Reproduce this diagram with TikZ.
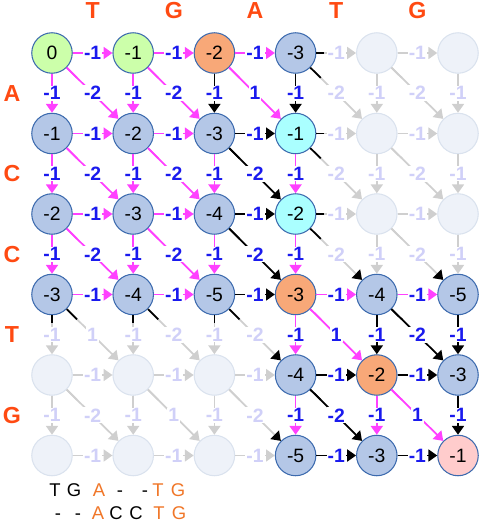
\documentclass[tikz,border=0pt]{standalone}
\usepackage{fontspec}
\setmainfont{Liberation Sans}
\usetikzlibrary{arrows.meta}

\definecolor{cellline}{HTML}{3C6AAE}
\definecolor{cellblue}{HTML}{B4C7E7}
\definecolor{cellgreen}{HTML}{CCFFAA}
\definecolor{cellorange}{HTML}{F8A878}
\definecolor{cellcyan}{HTML}{AAFFFF}
\definecolor{cellpink}{HTML}{FFCCCC}
\definecolor{dimfill}{HTML}{EEF2F9}
\definecolor{dimline}{HTML}{DAE2EE}
\definecolor{pathpink}{HTML}{FF40FF}
\definecolor{dimedge}{HTML}{CFCFCF}
\definecolor{scoreblue}{HTML}{1A1AEE}
\definecolor{dimscore}{HTML}{D0D0F8}
\definecolor{seqred}{HTML}{FF4A12}
\definecolor{alnorange}{HTML}{F07628}

\tikzset{
  cell/.style={circle, draw=cellline, line width=0.6pt, minimum size=0.81cm,
               inner sep=0pt, font=\fontsize{11}{11}\selectfont},
  dim cell/.style={cell, draw=dimline, fill=dimfill},
  tip/.style={-{Triangle[length=5pt,width=6.8pt]}},
  score/.style={fill=white, inner sep=0.6pt, text=scoreblue,
                font=\bfseries\fontsize{11}{11}\selectfont},
  dim score/.style={score, text=dimscore},
  % m = on the path, k = plain, f = faded, kf/fk/kfk = mixed ends
  line m/.style={draw=pathpink, tip},
  line k/.style={draw=black, tip},
  line f/.style={draw=dimedge, tip},
  line kf/.style={line f},
  line fk/.style={draw=dimedge, -{Triangle[length=5pt,width=6.8pt,color=black]}},
  line kfk/.style={line fk},
  lbl m/.style={score}, lbl k/.style={score},
  lbl f/.style={dim score}, lbl kf/.style={dim score},
  lbl fk/.style={dim score}, lbl kfk/.style={dim score},
  stub m/.style={draw=pathpink}, stub k/.style={draw=black},
  stub f/.style={draw=dimedge}, stub kf/.style={draw=black},
  stub fk/.style={draw=dimedge}, stub kfk/.style={draw=black},
  seq/.style={text=seqred, font=\bfseries\fontsize{13.2}{13.2}\selectfont},
  aln/.style={anchor=base, font=\fontsize{10.5}{10.5}\selectfont}
}

\begin{document}
\begin{tikzpicture}[x=0.02cm, y=-0.02cm, line width=1pt]

\useasboundingbox (0,0) rectangle (479,524);

% sequence letters
\foreach \j/\c in {1/T,2/G,3/A,4/T,5/G}
  \node[seq] (top\j) at ({52+81.2*(\j-0.5)},11) {\c};
\foreach \i/\c in {1/A,2/C,3/C,4/T,5/G}
  \node[seq] (side\i) at (12,{53+80.5*(\i-0.5)}) {\c};

% score cells
\foreach \i/\j/\v/\s in {0/0/0/green, 0/1/-1/green, 0/2/-2/orange, 0/3/-3/blue,
    1/0/-1/blue, 1/1/-2/blue, 1/2/-3/blue, 1/3/-1/cyan,
    2/0/-2/blue, 2/1/-3/blue, 2/2/-4/blue, 2/3/-2/cyan,
    3/0/-3/blue, 3/1/-4/blue, 3/2/-5/blue, 3/3/-3/orange, 3/4/-4/blue, 3/5/-5/blue,
    4/3/-4/blue, 4/4/-2/orange, 4/5/-3/blue,
    5/3/-5/blue, 5/4/-3/blue, 5/5/-1/pink}
  \node[cell, fill=cell\s] (n\i\j) at ({52+81.2*\j},{53+80.5*\i}) {\v};
\foreach \i/\j in {0/4,0/5,1/4,1/5,2/4,2/5,4/0,4/1,4/2,5/0,5/1,5/2}
  \node[dim cell] (n\i\j) at ({52+81.2*\j},{53+80.5*\i}) {};

% gaps along a row
\foreach \i/\j/\t in {0/0/m, 0/1/m, 0/2/m, 0/3/kf, 0/4/f,
    1/0/m, 1/1/m, 1/2/k, 1/3/kf, 1/4/f,
    2/0/m, 2/1/m, 2/2/k, 2/3/kf, 2/4/f,
    3/0/m, 3/1/m, 3/2/k, 3/3/m, 3/4/m,
    4/0/f, 4/1/f, 4/2/f, 4/3/k, 4/4/k,
    5/0/f, 5/1/f, 5/2/f, 5/3/k, 5/4/k} {
  \pgfmathtruncatemacro\k{\j+1}
  \path (n\i\j) -- (n\i\k) coordinate[pos=0.2] (st);
  \draw[line \t] (n\i\j) -- (n\i\k) node[midway, lbl \t] {-1};
  \draw[stub \t] (n\i\j) -- (st);
}

% gaps down a column
\foreach \i/\j/\t in {0/0/m, 0/1/m, 0/2/k, 0/3/k, 0/4/f, 0/5/f,
    1/0/m, 1/1/m, 1/2/m, 1/3/m, 1/4/f, 1/5/f,
    2/0/m, 2/1/m, 2/2/m, 2/3/m, 2/4/f, 2/5/f,
    3/0/kf, 3/1/kf, 3/2/kf, 3/3/m, 3/4/k, 3/5/k,
    4/0/f, 4/1/f, 4/2/f, 4/3/m, 4/4/m, 4/5/k} {
  \pgfmathtruncatemacro\k{\i+1}
  \path (n\i\j) -- (n\k\j) coordinate[pos=0.2] (st);
  \draw[line \t] (n\i\j) -- (n\k\j) node[midway, lbl \t] {-1};
  \draw[stub \t] (n\i\j) -- (st);
}

% matches and mismatches
\foreach \i/\j/\l/\t in {0/0/-2/m, 0/1/-2/m, 0/2/1/m, 0/3/-2/kf, 0/4/-2/f,
    1/0/-2/m, 1/1/-2/m, 1/2/-2/k, 1/3/-2/kf, 1/4/-2/f,
    2/0/-2/m, 2/1/-2/m, 2/2/-2/k, 2/3/-2/kfk, 2/4/-2/fk,
    3/0/1/kf, 3/1/-2/kf, 3/2/-2/kfk, 3/3/1/m, 3/4/-2/k,
    4/0/-2/f, 4/1/1/f, 4/2/-2/fk, 4/3/-2/k, 4/4/1/m} {
  \pgfmathtruncatemacro\k{\i+1}
  \pgfmathtruncatemacro\m{\j+1}
  \path (n\i\j) -- (n\k\m) coordinate[pos=0.2] (st);
  \draw[line \t] (n\i\j) -- (n\k\m) node[midway, lbl \t] {\l};
  \draw[stub \t] (n\i\j) -- (st);
}

% alignment read off the path
\foreach \x/\c/\col [count=\n] in {55/T/black, 74/G/black, 99/A/alnorange,
    120/-/black, 145/-/black, 158/T/alnorange, 178/G/alnorange}
  \node[aln, text=\col] (up\n) at (\x,496.7) {\c};
\foreach \x/\c/\col [count=\n] in {58/-/black, 78/-/black, 98/A/alnorange,
    116/C/black, 136/C/black, 159/T/alnorange, 179/G/alnorange}
  \node[aln, text=\col] (lo\n) at (\x,519) {\c};

\end{tikzpicture}
\end{document}
